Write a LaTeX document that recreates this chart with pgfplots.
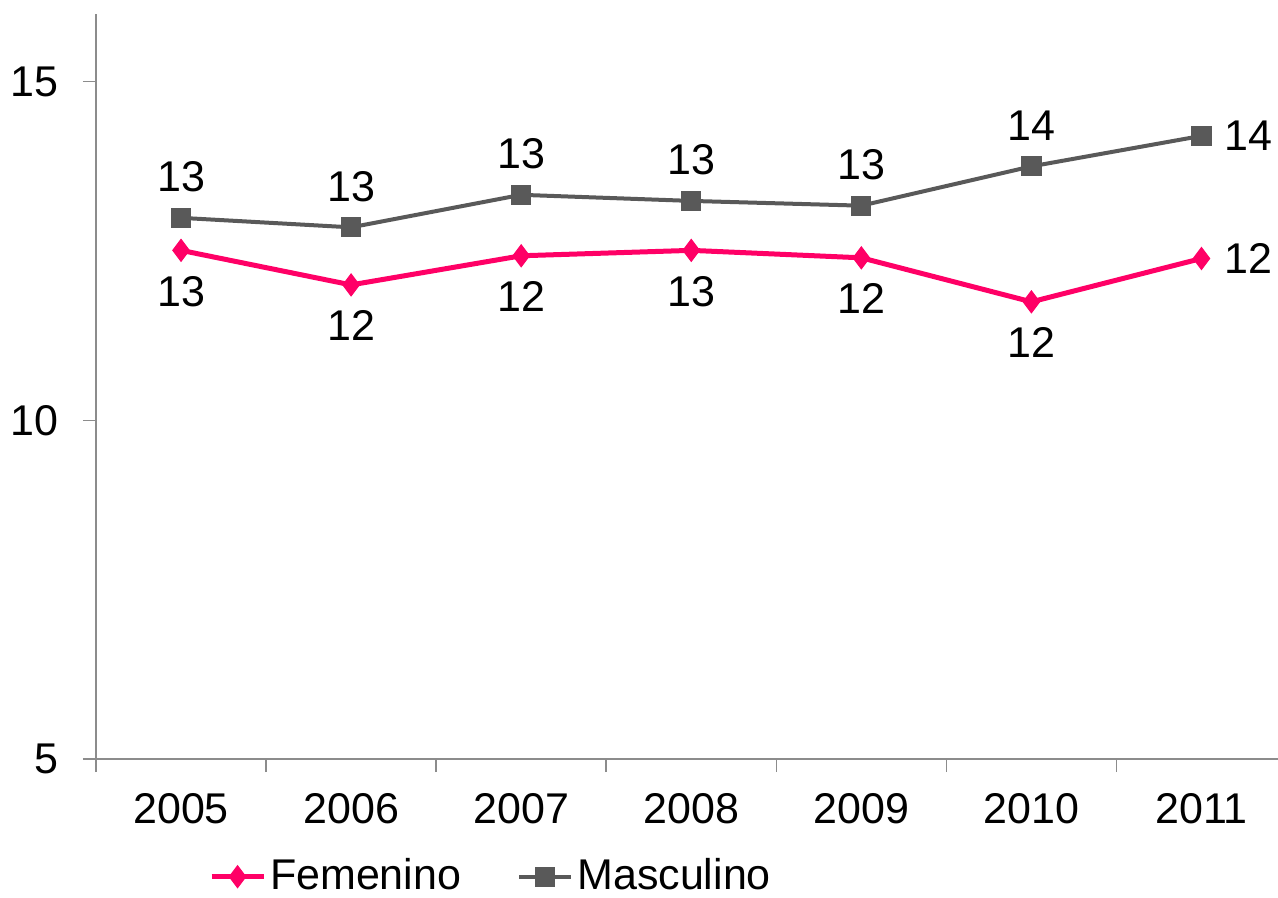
\documentclass[border=0pt]{standalone}
\usepackage{pgfplots}
\pgfplotsset{compat=1.18}
\usepackage{fontspec}
\setmainfont{Liberation Sans}
\definecolor{fem}{HTML}{FF0066}
\definecolor{mas}{HTML}{595959}
\definecolor{axc}{HTML}{8C8C8C}
\begin{document}
\fontsize{21.5}{25}\selectfont
\begin{tikzpicture}
\begin{axis}[
  name=ax,
  scale only axis,
  width=591pt, height=372.5pt,
  xmin=-0.5, xmax=6.45,
  ymin=5, ymax=16,
  axis lines*=left,
  axis line style={axc, line width=0.75pt},
  ytick={5,10,15},
  xtick={-0.5,0.5,1.5,2.5,3.5,4.5,5.5},
  xticklabels={},
  extra x ticks={0,1,2,3,4,5,6},
  extra x tick labels={2005,2006,2007,2008,2009,2010,2011},
  extra x tick style={major tick length=0pt, xticklabel style={yshift=-10pt}},
  tick align=outside,
  major tick length=6.5pt,
  tick style={axc, line width=0.75pt},
  /pgf/number format/assume math mode=true,
  ticklabel style={font=\fontsize{21.5}{25}\selectfont, text=black},
  yticklabel style={xshift=-5pt},
  legend style={draw=none, fill=none, at={(0.335,-0.158)}, anchor=center,
    legend columns=2, font=\fontsize{21.5}{25}\selectfont,
    /tikz/every even column/.append style={column sep=26pt},
    inner sep=0pt},
  legend image code/.code={\draw[mark repeat=2,mark phase=2,#1] plot coordinates {(0pt,0pt)(13pt,0pt)(26pt,0pt)};},
  nodes near coords,
  point meta=explicit symbolic,
  every node near coord/.append style={font=\fontsize{21.5}{25}\selectfont, text=black},
  clip=false,
]
\addplot[fem, line width=2.5pt, mark=diamond*, mark size=5.5pt, mark options={line width=0.5pt},
  nodes near coords align={below}, every node near coord/.append style={yshift=-5.5pt}]
  coordinates {(0,12.51)[13] (1,12.0)[12] (2,12.43)[12] (3,12.51)[13] (4,12.40)[12] (5,11.75)[12] (6,12.39)[]};
\addlegendentry{Femenino}
\addplot[mas, line width=2pt, mark=square*, mark size=4.8pt, mark options={line width=0.5pt},
  nodes near coords align={above}, every node near coord/.append style={yshift=5.5pt}]
  coordinates {(0,12.99)[13] (1,12.85)[13] (2,13.33)[13] (3,13.24)[13] (4,13.17)[13] (5,13.75)[14] (6,14.2)[]};
\addlegendentry{Masculino}
\addplot[draw=none, forget plot, nodes near coords align={right}, every node near coord/.append style={xshift=4pt}]
  coordinates {(6,12.39)[12] (6,14.2)[14]};
\end{axis}
\pgfresetboundingbox
\path ([shift={(-48pt,-69.5pt)}]ax.south west) rectangle ([shift={(0pt,7pt)}]ax.north east);
\end{tikzpicture}
\end{document}
